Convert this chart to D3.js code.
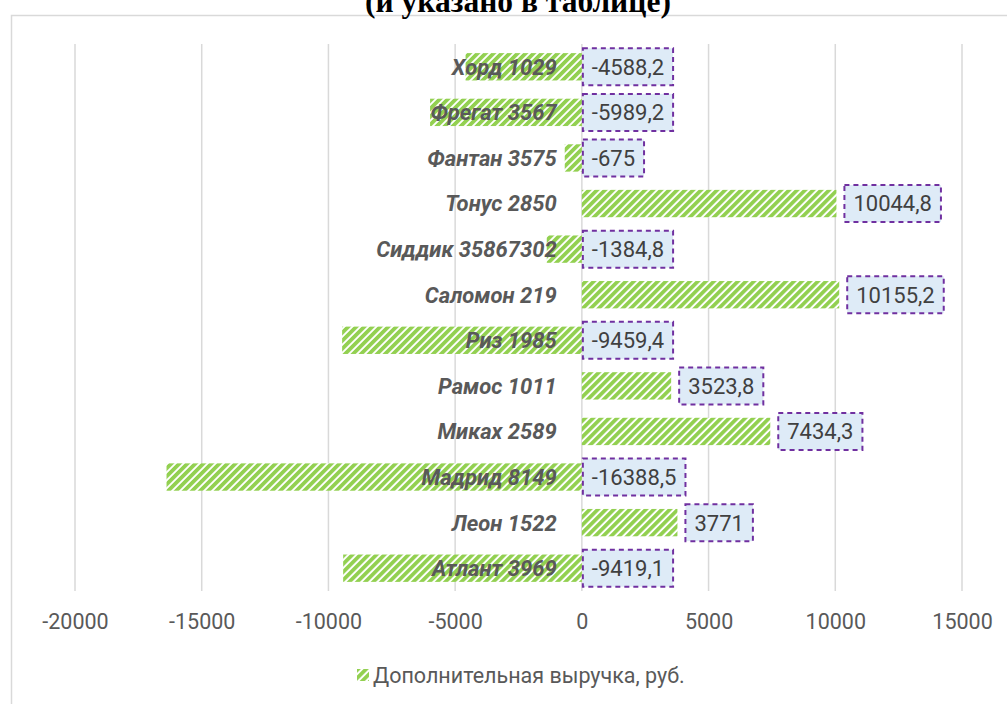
<!DOCTYPE html>
<html>
<head>
<meta charset="utf-8">
<script src="https://cdn.jsdelivr.net/npm/d3@7"></script>
<style>
  body { margin: 0; background: #fff; }
  svg { display: block; }
</style>
</head>
<body>
<svg id="chart" width="1007" height="704"></svg>
<script>
// chart data
const categories = ["Хорд 1029", "Фрегат 3567", "Фантан 3575", "Тонус 2850", "Сиддик 35867302", "Саломон 219",
  "Риз 1985", "Рамос 1011", "Миках 2589", "Мадрид 8149", "Леон 1522", "Атлант 3969"];
const values = [-4588.2, -5989.2, -675, 10044.8, -1384.8, 10155.2, -9459.4, 3523.8, 7434.3, -16388.5, 3771, -9419.1];
const tickValues = [-20000, -15000, -10000, -5000, 0, 5000, 10000, 15000];
const seriesName = "Дополнительная выручка, руб.";
const titleText = "(и указано в таблице)";

const svg = d3.select("#chart");
const font = "Roboto, 'Noto Sans', sans-serif";

// stripe pattern for bars
let defs = svg.append("defs");
let pat = defs.append("pattern")
  .attr("id", "stripes")
  .attr("patternUnits", "userSpaceOnUse")
  .attr("width", 5.66).attr("height", 10)
  .attr("patternTransform", "rotate(45)");
pat.append("rect").attr("width", 5.66).attr("height", 10).attr("fill", "#ffffff");
pat.append("rect").attr("width", 3.7).attr("height", 10).attr("fill", "#92d050");

// outer frame (runs past the right and bottom edges)
svg.append("rect")
  .attr("x", 11.5).attr("y", 15.5)
  .attr("width", 1100).attr("height", 800)
  .attr("fill", "none").attr("stroke", "#d9d9d9").attr("stroke-width", 1.5);

// title, mostly cut off at the top
svg.append("text")
  .attr("x", 518).attr("y", 12)
  .attr("text-anchor", "middle")
  .attr("font-family", "'Liberation Serif', 'Times New Roman', serif")
  .attr("font-weight", "bold")
  .attr("font-size", 31.5)
  .attr("fill", "#000")
  .text(titleText);

let x = d3.scaleLinear().domain([-20000, 15000]).range([75, 962]);
let y = d3.scaleBand().domain(categories).range([44, 591]).paddingInner(0.4).paddingOuter(0.2);

// gridlines
svg.append("g").selectAll("line")
  .data(tickValues)
  .enter().append("line")
  .attr("x1", (d) => x(d)).attr("x2", (d) => x(d))
  .attr("y1", 44).attr("y2", 591)
  .attr("stroke", "#d9d9d9").attr("stroke-width", 1.5);

// tick labels via axis
let axis = svg.append("g")
  .attr("transform", "translate(0,614)")
  .call(d3.axisBottom(x).tickValues(tickValues).tickSize(0).tickPadding(0).tickFormat(d3.format("d")));
axis.select(".domain").remove();
axis.selectAll("text")
  .attr("dy", "0.71em")
  .attr("font-family", font)
  .attr("font-size", 21.5)
  .attr("fill", "#595959")
  .text((d) => String(d).replace("−", "-"));

// bars
let rows = categories.map((c, i) => ({ name: c, value: values[i] }));
svg.append("g").selectAll("rect")
  .data(rows)
  .enter().append("rect")
  .attr("x", (d) => x(Math.min(0, d.value)))
  .attr("width", (d) => Math.abs(x(d.value) - x(0)))
  .attr("y", (d) => y(d.name))
  .attr("height", y.bandwidth())
  .attr("fill", "url(#stripes)");

// category labels next to the zero axis
svg.append("g").selectAll("text")
  .data(rows)
  .enter().append("text")
  .attr("x", x(0) - 25)
  .attr("y", (d) => y(d.name) + y.bandwidth() / 2)
  .attr("dy", "0.36em")
  .attr("text-anchor", "end")
  .attr("font-family", font)
  .attr("font-size", 22)
  .attr("font-weight", "bold")
  .attr("font-style", "italic")
  .attr("fill", "#595959")
  .text((d) => d.name);

// data labels in dashed boxes
let fmt = (v) => String(v).replace(".", ",");
let lbl = svg.append("g").selectAll("g")
  .data(rows)
  .enter().append("g");

lbl.each(function(d) {
  let g = d3.select(this);
  let cy = y(d.name) + y.bandwidth() / 2;
  let t = g.append("text")
    .attr("y", cy)
    .attr("dy", "0.36em")
    .attr("font-family", font)
    .attr("font-size", 22)
    .attr("fill", "#404040")
    .text(fmt(d.value));
  let w = t.node().getComputedTextLength() + 18;
  let left = d.value < 0 ? x(0) + 1 : x(d.value) + 8;
  g.insert("rect", "text")
    .attr("x", left).attr("y", cy - 18.5)
    .attr("width", w).attr("height", 37)
    .attr("fill", "#deebf7")
    .attr("stroke", "#7030a0").attr("stroke-width", 2)
    .attr("stroke-dasharray", "5,4");
  t.attr("x", left + w / 2).attr("text-anchor", "middle");
});

// legend
let legend = svg.append("g");
legend.append("rect")
  .attr("x", 357).attr("y", 669).attr("width", 12).attr("height", 12)
  .attr("fill", "url(#stripes)");
legend.append("text")
  .attr("x", 373).attr("y", 675)
  .attr("dy", "0.36em")
  .attr("font-family", font)
  .attr("font-size", 21.5)
  .attr("fill", "#595959")
  .text(seriesName);
</script>
</body>
</html>
